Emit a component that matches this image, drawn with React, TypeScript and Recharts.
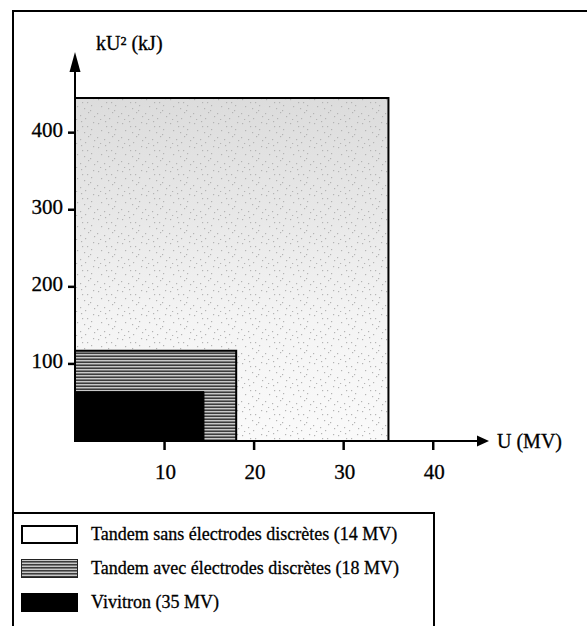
import React from 'react';
import { ComposedChart, XAxis, YAxis, ReferenceArea, ReferenceDot } from 'recharts';

// axis ticks
const uTicks = [10, 20, 30, 40];
const energyTicks = [100, 200, 300, 400];

// regions, from the largest (light) to the smallest (black)
const regionU = [35, 18, 14.4];
const regionEnergy = [445, 117, 64];
const legendLabels = [
  'Tandem sans électrodes discrètes (14 MV)',
  'Tandem avec électrodes discrètes (18 MV)',
  'Vivitron (35 MV)',
];

const serif = '"Liberation Serif", "Times New Roman", serif';
const uMax = 45;
const energyMax = 480;

// hand placed stipple dots for the light region
const dots = [
  [2, 3], [9, 1], [15, 6], [21, 2], [5, 10], [12, 12], [19, 9], [1, 17],
  [8, 19], [16, 16], [22, 20], [4, 23], [13, 22], [18, 14], [10, 6],
];

const swatchStyles: React.CSSProperties[] = [
  { background: '#fff', border: '2px solid #000' },
  {
    background: 'repeating-linear-gradient(180deg, #c8c8c8 0px, #c8c8c8 1px, #3c3c3c 1px, #3c3c3c 2px, #7a7a7a 2px, #7a7a7a 3px)',
    border: '1px solid #222',
  },
  { background: '#000' },
];

const YArrow = (props: any) => {
  const { cx, cy } = props;
  return (
    <g>
      <polygon points={`${cx},${cy - 19} ${cx - 5.5},${cy + 1} ${cx + 5.5},${cy + 1}`} fill="#000" />
      <text x={cx + 21} y={cy - 21} fontFamily={serif} fontSize={20} fill="#000" stroke="#000" strokeWidth={0.3}>
        kU² (kJ)
      </text>
    </g>
  );
};

const XArrow = (props: any) => {
  const { cx, cy } = props;
  return (
    <g>
      <polygon points={`${cx + 11},${cy} ${cx - 1},${cy - 5.5} ${cx - 1},${cy + 5.5}`} fill="#000" />
      <text x={cx + 19} y={cy + 7} fontFamily={serif} fontSize={20} fill="#000" stroke="#000" strokeWidth={0.3}>
        U (MV)
      </text>
    </g>
  );
};

const XTick = (props: any) => {
  const { x, y, payload } = props;
  return (
    <text x={x + 1} y={y + 13} textAnchor="middle" fontFamily={serif} fontSize={21} fill="#000" stroke="#000" strokeWidth={0.3}>
      {payload.value}
    </text>
  );
};

const YTick = (props: any) => {
  const { x, y, payload } = props;
  return (
    <text x={x + 1} y={y + 4} textAnchor="end" fontFamily={serif} fontSize={21} fill="#000" stroke="#000" strokeWidth={0.3}>
      {payload.value}
    </text>
  );
};

export default function App() {
  return (
    <div style={{ position: 'absolute', left: 0, top: 0, width: 587, height: 626, overflow: 'hidden', background: '#fff' }}>
      <div style={{ position: 'absolute', left: 12, top: 10, width: 700, height: 800, border: '2px solid #000' }} />
      <div style={{ position: 'absolute', left: 0, top: 0 }}>
        <ComposedChart width={587} height={626} margin={{ top: 71, right: 109, bottom: 145, left: 0 }} data={[]}>
          <defs>
            <linearGradient id="lightShade" x1="0" y1="0" x2="0" y2="1">
              <stop offset="0%" stopColor="#dcdcdc" />
              <stop offset="35%" stopColor="#e8e8e8" />
              <stop offset="65%" stopColor="#f4f4f4" />
              <stop offset="100%" stopColor="#fafafa" />
            </linearGradient>
            <pattern id="stipple" width="24" height="24" patternUnits="userSpaceOnUse">
              {dots.map(([x, y], i) => (
                <rect key={i} x={x} y={y} width={1.2} height={1.2} fill="#b4b4b4" />
              ))}
            </pattern>
            <pattern id="stripes" width="8" height="3" patternUnits="userSpaceOnUse">
              <rect x={0} y={0} width={8} height={3} fill="#7a7a7a" />
              <rect x={0} y={0} width={8} height={1} fill="#c8c8c8" />
              <rect x={0} y={2} width={8} height={1} fill="#3c3c3c" />
            </pattern>
          </defs>
          <XAxis
            type="number"
            dataKey="u"
            domain={[0, uMax]}
            ticks={uTicks}
            interval={0}
            allowDataOverflow
            height={40}
            tickSize={9}
            tickMargin={16}
            axisLine={{ stroke: '#000', strokeWidth: 2 }}
            tickLine={{ stroke: '#000', strokeWidth: 2.5 }}
            tick={<XTick />}
          />
          <YAxis
            type="number"
            dataKey="e"
            domain={[0, energyMax]}
            ticks={energyTicks}
            interval={0}
            allowDataOverflow
            width={75}
            tickSize={7}
            tickMargin={6}
            axisLine={{ stroke: '#000', strokeWidth: 2 }}
            tickLine={{ stroke: '#000', strokeWidth: 2.5 }}
            tick={<YTick />}
          />
          <ReferenceArea x1={0} x2={regionU[0]} y1={0} y2={regionEnergy[0]} fill="url(#lightShade)" fillOpacity={1} stroke="none" />
          <ReferenceArea x1={0} x2={regionU[0]} y1={0} y2={regionEnergy[0]} fill="url(#stipple)" fillOpacity={1} stroke="#000" strokeWidth={2} />
          <ReferenceArea x1={0} x2={regionU[1]} y1={0} y2={regionEnergy[1]} fill="url(#stripes)" fillOpacity={1} stroke="#000" strokeWidth={2} />
          <ReferenceArea x1={0} x2={regionU[2]} y1={0} y2={regionEnergy[2]} fill="#000" fillOpacity={1} stroke="#000" strokeWidth={1} />
          <ReferenceDot x={0} y={energyMax} r={0} ifOverflow="visible" shape={YArrow} />
          <ReferenceDot x={uMax} y={0} r={0} ifOverflow="visible" shape={XArrow} />
        </ComposedChart>
      </div>
      <div
        style={{
          position: 'absolute', left: 12, top: 512, width: 419, height: 200,
          border: '2px solid #000', fontFamily: serif, fontSize: 18, WebkitTextStroke: '0.3px #000',
        }}
      >
        {legendLabels.map((label, i) => (
          <div key={label} style={{ position: 'absolute', left: 7, top: 10 + i * 34, display: 'flex', alignItems: 'center' }}>
            <div style={{ width: 57, height: 19, boxSizing: 'border-box', ...swatchStyles[i] }} />
            <span style={{ marginLeft: 13 }}>{label}</span>
          </div>
        ))}
      </div>
    </div>
  );
}
